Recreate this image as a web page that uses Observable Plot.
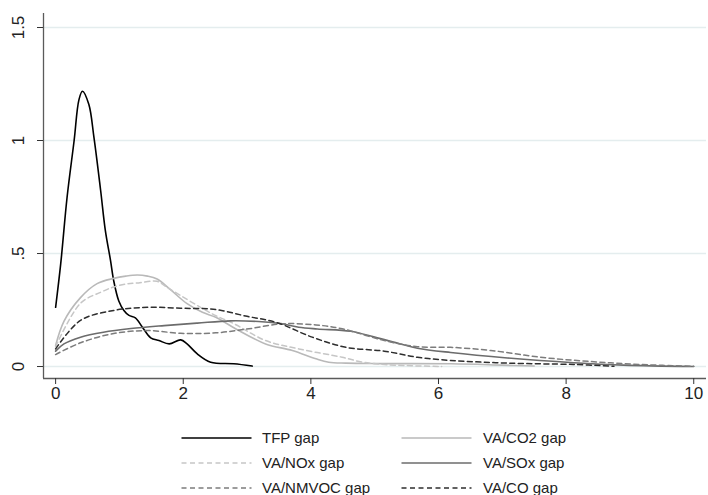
<!DOCTYPE html>
<html>
<head>
<meta charset="utf-8">
<script src="https://cdn.jsdelivr.net/npm/d3@7"></script>
<script src="https://cdn.jsdelivr.net/npm/@observablehq/plot@0.6"></script>
<style>
  body { margin: 0; background: #fff; }
  svg { display: block; }
</style>
</head>
<body>
<div id="chart"></div>
<div id="legend"></div>
<script>
// ---- data ----
const seriesNames = ["TFP gap", "VA/CO2 gap", "VA/NOx gap", "VA/SOx gap", "VA/NMVOC gap", "VA/CO gap"];

const tfpX = [0, 0.08, 0.18, 0.29, 0.365, 0.42, 0.52, 0.6, 0.705, 0.78, 0.86, 0.91, 0.99, 1.07, 1.15, 1.25, 1.36, 1.49, 1.62, 1.78, 1.96, 2.06, 2.22, 2.43, 2.79, 3.08];
const tfpY = [0.262, 0.455, 0.75, 1.0, 1.18, 1.218, 1.16, 1.015, 0.78, 0.6, 0.47, 0.38, 0.29, 0.248, 0.226, 0.215, 0.174, 0.127, 0.115, 0.1, 0.118, 0.1, 0.056, 0.019, 0.012, 0.002];

const co2X = [0, 0.13, 0.39, 0.65, 0.91, 1.1, 1.28, 1.44, 1.59, 1.8, 2.06, 2.3, 2.51, 2.82, 3.29, 3.71, 4.08, 4.28, 4.55, 5.0, 6.2, 7.0, 7.5];
const co2Y = [0.093, 0.2, 0.305, 0.367, 0.39, 0.4, 0.405, 0.4, 0.387, 0.34, 0.278, 0.24, 0.218, 0.167, 0.1, 0.071, 0.034, 0.019, 0.015, 0.013, 0.012, 0.006, 0.002];

const noxX = [0, 0.39, 0.71, 0.91, 1.12, 1.3, 1.59, 1.75, 1.96, 2.27, 2.51, 2.79, 3.29, 3.81, 4.49, 4.8, 5.2, 6.05];
const noxY = [0.088, 0.28, 0.329, 0.352, 0.366, 0.37, 0.377, 0.35, 0.314, 0.262, 0.225, 0.19, 0.115, 0.078, 0.041, 0.02, 0.008, 0.0];

const soxX = [0, 0.13, 0.39, 0.75, 1.18, 1.7, 2.22, 2.74, 3.18, 3.53, 3.81, 4.1, 4.62, 5.0, 5.4, 5.67, 6.19, 7.08, 8.12, 8.9, 10.0];
const soxY = [0.068, 0.1, 0.13, 0.152, 0.168, 0.181, 0.192, 0.202, 0.199, 0.19, 0.174, 0.166, 0.156, 0.13, 0.1, 0.081, 0.062, 0.038, 0.017, 0.006, 0.0];

const nmvocX = [0, 0.39, 0.91, 1.44, 1.96, 2.51, 3.03, 3.55, 4.08, 4.49, 5.15, 5.67, 6.19, 6.82, 7.6, 8.39, 9.17, 10.0];
const nmvocY = [0.053, 0.105, 0.146, 0.159, 0.147, 0.149, 0.167, 0.189, 0.184, 0.167, 0.115, 0.088, 0.085, 0.071, 0.041, 0.022, 0.009, 0.001];

const coX = [0, 0.39, 0.91, 1.44, 1.96, 2.51, 3.0, 3.45, 4.02, 4.55, 5.15, 5.67, 6.19, 7.08, 8.12, 8.75];
const coY = [0.078, 0.204, 0.248, 0.262, 0.258, 0.252, 0.222, 0.196, 0.13, 0.085, 0.068, 0.041, 0.027, 0.015, 0.009, 0.001];

const xTicks = [0, 2, 4, 6, 8, 10];
const yTicks = [0, 0.5, 1, 1.5];
const yTickLabels = ["0", ".5", "1", "1.5"];

// ---- styles ----
const seriesStyle = {
  "TFP gap":      {stroke: "#000000", dash: null,  width: 1.6},
  "VA/CO2 gap":   {stroke: "#b9b9b9", dash: null,  width: 1.6},
  "VA/NOx gap":   {stroke: "#c6c6c6", dash: "5,3.5", width: 1.5},
  "VA/SOx gap":   {stroke: "#6c6c6c", dash: null,  width: 1.6},
  "VA/NMVOC gap": {stroke: "#7c7c7c", dash: "5,3.5", width: 1.5},
  "VA/CO gap":    {stroke: "#2e2e2e", dash: "5,3.5", width: 1.5}
};

const seriesData = [
  [tfpX, tfpY], [co2X, co2Y], [noxX, noxY], [soxX, soxY], [nmvocX, nmvocY], [coX, coY]
];
const rows = [];
seriesData.forEach(([xs, ys], k) => xs.forEach((x, i) => rows.push({series: seriesNames[k], x, y: ys[i]})));

const font = "'Liberation Sans', Arial, Helvetica, sans-serif";
const xMin = -0.19, xMax = 10.2, yMin = -0.053, yMax = 1.562;

const lineMarks = seriesNames.map(name => {
  const s = seriesStyle[name];
  return Plot.line(rows.filter(r => r.series === name), {
    x: "x", y: "y", stroke: s.stroke, strokeWidth: s.width,
    strokeDasharray: s.dash ?? undefined, curve: "catmull-rom"
  });
});

const chart = Plot.plot({
  width: 708, height: 412,
  marginLeft: 43, marginRight: 2, marginTop: 13, marginBottom: 34,
  style: {fontFamily: font, background: "#ffffff", color: "#222"},
  x: {domain: [xMin, xMax]},
  y: {domain: [yMin, yMax]},
  marks: [
    Plot.gridY(yTicks, {stroke: "#e4edee", strokeOpacity: 1, strokeWidth: 1.3}),
    ...lineMarks,
    Plot.ruleY([yMin], {stroke: "#5a5a5a", strokeWidth: 1.3}),
    Plot.ruleX([xMin], {stroke: "#5a5a5a", strokeWidth: 1.3}),
    Plot.axisX(xTicks, {tickSize: 6, tickPadding: 2, fontSize: 17, label: null, stroke: "#333"}),
    Plot.axisY(yTicks, {tickSize: 6, tickFormat: () => "", label: null, stroke: "#333"}),
    Plot.text(yTicks, {
      y: d => d, text: (d, i) => yTickLabels[i], frameAnchor: "left",
      rotate: -90, dx: -25, textAnchor: "middle", lineAnchor: "middle",
      fontSize: 17, fill: "#222"
    })
  ]
});
document.getElementById("chart").appendChild(chart);

// ---- legend (below the plot) ----
const legendLayout = [
  {col: 0, row: 0}, {col: 1, row: 0},
  {col: 0, row: 1}, {col: 1, row: 1},
  {col: 0, row: 2}, {col: 1, row: 2}
];
const colLine = [[181.5, 251.5], [401.5, 471.5]];
const colText = [262, 483];
const rowY = [26, 51, 76];

const leg = d3.create("svg").attr("width", 708).attr("height", 83)
  .style("font-family", font).style("font-size", "15px");
seriesNames.forEach((name, i) => {
  const s = seriesStyle[name];
  const L = legendLayout[i];
  const y = rowY[L.row];
  leg.append("line")
    .attr("x1", colLine[L.col][0]).attr("x2", colLine[L.col][1])
    .attr("y1", y).attr("y2", y)
    .attr("stroke", s.stroke).attr("stroke-width", s.width)
    .attr("stroke-dasharray", s.dash);
  leg.append("text")
    .attr("x", colText[L.col]).attr("y", y).attr("dy", "0.35em")
    .attr("fill", "#222").text(name);
});
document.getElementById("legend").appendChild(leg.node());
</script>
</body>
</html>
